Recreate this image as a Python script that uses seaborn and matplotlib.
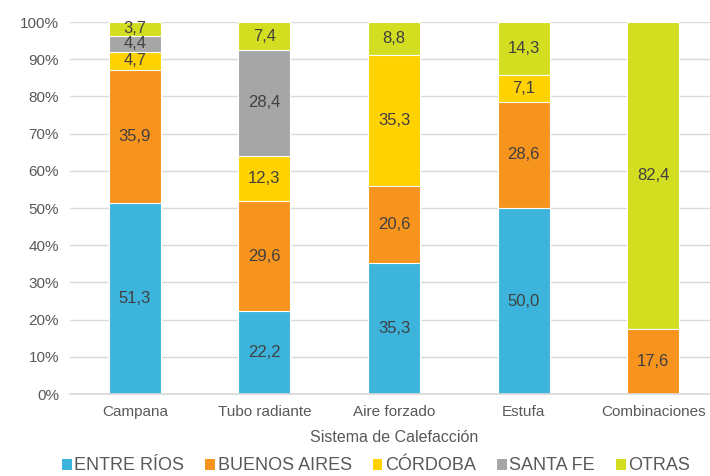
import numpy as np
import matplotlib
matplotlib.use('Agg')
import matplotlib.pyplot as plt
from matplotlib.patches import Patch
import seaborn as sns

# Data (percent of each heating system, by province)
categories = ['Campana', 'Tubo radiante', 'Aire forzado', 'Estufa', 'Combinaciones']
series_names = ['ENTRE RÍOS', 'BUENOS AIRES', 'CÓRDOBA', 'SANTA FE', 'OTRAS']
entre_rios = [51.3, 22.2, 35.3, 50.0, 0.0]
buenos_aires = [35.9, 29.6, 20.6, 28.6, 17.6]
cordoba = [4.7, 12.3, 35.3, 7.1, 0.0]
santa_fe = [4.4, 28.4, 0.0, 0.0, 0.0]
otras = [3.7, 7.4, 8.8, 14.3, 82.4]
colors = ['#3CB4DC', '#F7941D', '#FFD200', '#A6A6A6', '#D4DE21']

sns.set_theme(style='white')
plt.rcParams['font.family'] = ['Liberation Sans', 'DejaVu Sans']
text_col = '#595959'

values = np.array([entre_rios, buenos_aires, cordoba, santa_fe, otras])
cum = np.cumsum(values, axis=0)
cum[-1] = 100.0  # rows are 100% stacked

fig = plt.figure(figsize=(7.1, 4.76), dpi=100)
ax = fig.add_axes([70 / 710, 1 - 394 / 476, 648 / 710, 372 / 476])

# draw from the top series down so each one covers the ones above it
for i in range(len(series_names) - 1, -1, -1):
    sns.barplot(x=categories, y=cum[i], color=colors[i], width=0.4,
                edgecolor='white', linewidth=0.8, saturation=1, ax=ax, zorder=2)

# data labels
for i in range(len(series_names)):
    base = cum[i - 1] if i > 0 else np.zeros(len(categories))
    for j, v in enumerate(values[i]):
        if v > 0:
            ax.text(j, base[j] + v / 2, f'{v:.1f}'.replace('.', ','),
                    ha='center', va='center', fontsize=12, color='#404040', zorder=3)

ax.set_ylim(0, 100)
ax.set_xlim(-0.5, len(categories) - 0.5)
ax.set_yticks(np.arange(0, 101, 10))
ax.set_yticklabels([f'{t}%' for t in range(0, 101, 10)])
ax.yaxis.grid(True, color='#D9D9D9', linewidth=1, zorder=0)
ax.set_axisbelow(True)
for s in ['top', 'right', 'left']:
    ax.spines[s].set_visible(False)
ax.spines['bottom'].set_color('#D9D9D9')
ax.tick_params(axis='both', length=0, labelsize=11, colors=text_col, pad=8)
ax.set_xlabel('Sistema de Calefacción', fontsize=11.5, color=text_col, labelpad=8)
ax.set_ylabel('')

handles = [Patch(facecolor=c, edgecolor='none') for c in colors]
fig.legend(handles, series_names, loc='center', bbox_to_anchor=(376 / 710, 1 - 466 / 476),
           ncol=5, frameon=False, fontsize=13, handlelength=0.55, handleheight=0.55,
           handletextpad=0.15, columnspacing=1.15, labelcolor=text_col)

fig.savefig('out.png', dpi=100)
